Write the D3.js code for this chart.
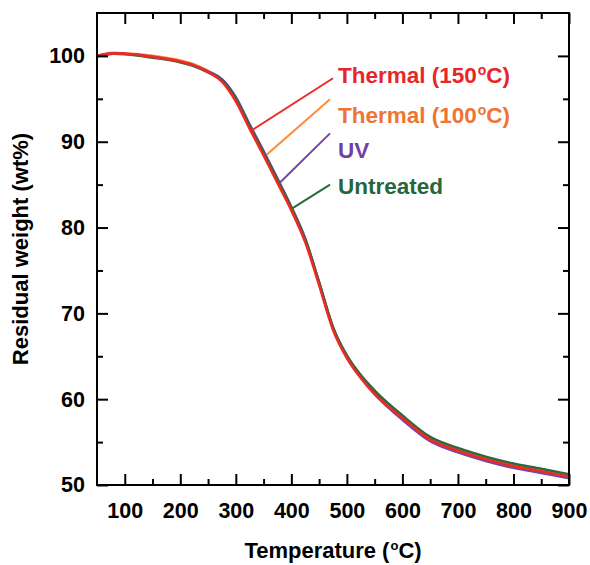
<!DOCTYPE html>
<html>
<head>
<meta charset="utf-8">
<script src="https://cdn.jsdelivr.net/npm/d3@7"></script>
<style>
  body { margin: 0; background: #fff; }
  svg text { font-family: "Liberation Sans", Arial, sans-serif; font-weight: bold; }
</style>
</head>
<body>
<div id="graf"></div>
<script>
// temperatura (°C) i rezidualna masa (wt%) po uzorku
const temperature = [50, 80, 100, 150, 200, 225, 250, 275, 300, 325, 350, 375, 400, 425, 450, 475, 500, 525, 550, 600, 650, 700, 750, 800, 850, 900];
const thermal150 = [100.0, 100.3, 100.25, 99.9, 99.35, 98.9, 98.1, 97.0, 94.7, 91.5, 88.4, 85.2, 82.0, 78.3, 73.3, 68.1, 64.8, 62.5, 60.6, 57.8, 55.3, 54.0, 53.0, 52.2, 51.6, 50.95];
const thermal100 = [100.0, 100.35, 100.3, 100.0, 99.45, 99.0, 98.25, 97.15, 94.85, 91.7, 88.6, 85.4, 82.2, 78.5, 73.5, 68.3, 65.0, 62.7, 60.8, 57.9, 55.4, 54.05, 53.05, 52.25, 51.65, 51.0];
const uv = [100.0, 100.3, 100.25, 99.9, 99.3, 98.85, 98.2, 97.3, 95.2, 92.0, 88.9, 85.7, 82.4, 78.7, 73.6, 68.3, 64.9, 62.5, 60.6, 57.6, 55.1, 53.8, 52.8, 52.0, 51.4, 50.8];
const untreated = [100.0, 100.25, 100.2, 99.8, 99.25, 98.8, 98.1, 97.2, 95.0, 91.8, 88.7, 85.5, 82.3, 78.6, 73.6, 68.4, 65.1, 62.8, 61.0, 58.1, 55.6, 54.3, 53.3, 52.5, 51.9, 51.25];

const nazivi = ["Thermal (150", "Thermal (100", "UV", "Untreated"];
const stupnjevi = [true, true, false, false];
// točka na krivulji, kraj linije i položaj natpisa (u jedinicama podataka)
const pocetakT = [325.5, 356, 379.6, 401];
const pocetakW = [91.2, 88.5, 85.25, 82.2];
const krajT = [475, 469.6, 469.6, 469.6];
const krajW = [97.4, 94.95, 90.97, 85.0];
const natpisT = [484, 484, 484, 484];
const natpisW = [96.9, 92.24, 88.16, 83.96];

const xOznake = [100, 200, 300, 400, 500, 600, 700, 800, 900];
const yOznake = [50, 60, 70, 80, 90, 100];

const bojeLinija = ["#ee2a24", "#ff8a3a", "#7446a8", "#2a6a3c"];
const bojeTeksta = ["#e8262a", "#ef7434", "#7040a4", "#25663a"];

const serije = [thermal150, thermal100, uv, untreated];

let dimenzije = {
  sirina: 590,
  visina: 565,
  margine: { top: 13, right: 21, bottom: 80, left: 97 },
};
dimenzije.grSirina = dimenzije.sirina - dimenzije.margine.left - dimenzije.margine.right;
dimenzije.grVisina = dimenzije.visina - dimenzije.margine.top - dimenzije.margine.bottom;

const okvir = d3.select("#graf").append("svg")
  .attr("width", dimenzije.sirina)
  .attr("height", dimenzije.visina);

const g = okvir.append("g")
  .attr("transform", `translate(${dimenzije.margine.left},${dimenzije.margine.top})`);

const x = d3.scaleLinear().domain([50, 900]).range([0, dimenzije.grSirina]);
const y = d3.scaleLinear().domain([50, 105]).range([dimenzije.grVisina, 0]);

//Krivulje (redoslijed crtanja: narančasta, ljubičasta, zelena, crvena)
const linija = d3.line()
  .x((d, i) => x(temperature[i]))
  .y(d => y(d))
  .curve(d3.curveMonotoneX);

[1, 2, 3, 0].forEach(k => {
  g.append("path")
    .attr("d", linija(serije[k]))
    .attr("fill", "none")
    .attr("stroke", bojeLinija[k])
    .attr("stroke-width", 2.6);
});

//Osi
const glavneX = xOznake;
const sporedneX = d3.range(150, 900, 100);
const glavneY = yOznake;
const sporedneY = d3.range(55, 100, 10);

function stil(os) {
  os.select(".domain").remove();
  os.selectAll("line").attr("stroke", "#000").attr("stroke-width", 2);
  os.selectAll("text").attr("fill", "#000").style("font-size", "21.5px");
}

g.append("g").attr("transform", `translate(0,${dimenzije.grVisina})`)
  .call(d3.axisBottom(x).tickValues(glavneX).tickSize(-11).tickPadding(18))
  .call(stil);
g.append("g").attr("transform", `translate(0,${dimenzije.grVisina})`)
  .call(d3.axisBottom(x).tickValues(sporedneX).tickSize(-6).tickFormat(""))
  .call(stil);
g.append("g")
  .call(d3.axisTop(x).tickValues(glavneX).tickSize(-11).tickFormat(""))
  .call(stil);
g.append("g")
  .call(d3.axisTop(x).tickValues(sporedneX).tickSize(-6).tickFormat(""))
  .call(stil);

g.append("g")
  .call(d3.axisLeft(y).tickValues(glavneY).tickSize(-11).tickPadding(12))
  .call(stil);
g.append("g")
  .call(d3.axisLeft(y).tickValues(sporedneY).tickSize(-6).tickFormat(""))
  .call(stil);
g.append("g").attr("transform", `translate(${dimenzije.grSirina},0)`)
  .call(d3.axisRight(y).tickValues(glavneY).tickSize(-11).tickFormat(""))
  .call(stil);
g.append("g").attr("transform", `translate(${dimenzije.grSirina},0)`)
  .call(d3.axisRight(y).tickValues(sporedneY).tickSize(-6).tickFormat(""))
  .call(stil);

g.append("rect")
  .attr("width", dimenzije.grSirina)
  .attr("height", dimenzije.grVisina)
  .attr("fill", "none")
  .attr("stroke", "#000")
  .attr("stroke-width", 2);

//Natpisi uz krivulje
nazivi.forEach((naziv, i) => {
  g.append("line")
    .attr("x1", x(pocetakT[i])).attr("y1", y(pocetakW[i]))
    .attr("x2", x(krajT[i])).attr("y2", y(krajW[i]))
    .attr("stroke", bojeLinija[i])
    .attr("stroke-width", 2);

  const t = g.append("text")
    .attr("x", x(natpisT[i]))
    .attr("y", y(natpisW[i]))
    .attr("fill", bojeTeksta[i])
    .style("font-size", "22.5px")
    .text(naziv);
  if (stupnjevi[i]) {
    t.append("tspan").attr("dy", -8).attr("dx", 1).style("font-size", "14px").text("o");
    t.append("tspan").attr("dy", 8).text("C)");
  }
});

//Naslovi osi
okvir.append("text")
  .attr("x", dimenzije.margine.left + dimenzije.grSirina / 2)
  .attr("y", 558)
  .attr("text-anchor", "middle")
  .style("font-size", "22px")
  .text("Temperature (")
  .call(t => {
    t.append("tspan").attr("dy", -8).attr("dx", 1).style("font-size", "13px").text("o");
    t.append("tspan").attr("dy", 8).text("C)");
  });

okvir.append("text")
  .attr("transform", `translate(28,${dimenzije.margine.top + dimenzije.grVisina / 2}) rotate(-90)`)
  .attr("text-anchor", "middle")
  .style("font-size", "22px")
  .text("Residual weight (wt%)");
</script>
</body>
</html>
